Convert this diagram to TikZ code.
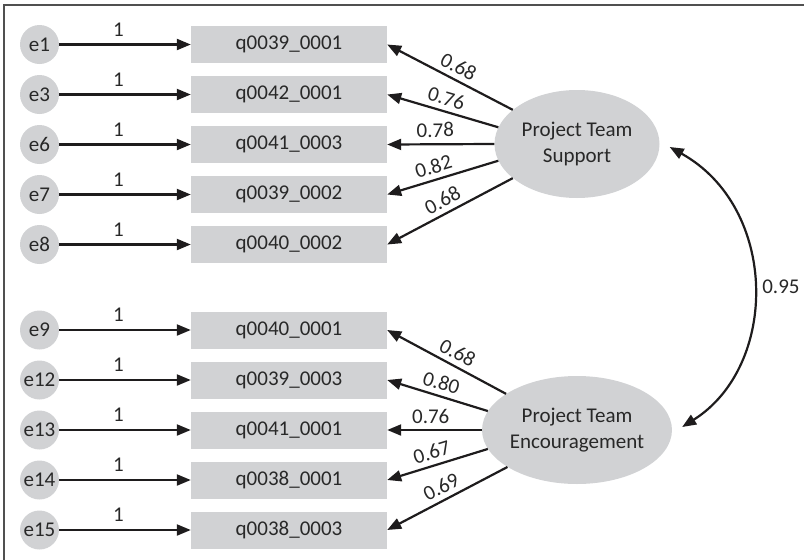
\documentclass[tikz,border=0pt]{standalone}
\usepackage{fontspec}
\setmainfont{Carlito}
\usetikzlibrary{arrows.meta,shapes.geometric,calc}
\definecolor{boxgray}{RGB}{209,210,212}
\definecolor{ink}{RGB}{30,28,29}
\definecolor{txt}{RGB}{40,40,40}
\definecolor{framegray}{RGB}{80,80,80}
\begin{document}
\begin{tikzpicture}[x=1pt,y=-1pt,
  font=\fontsize{21pt}{26pt}\selectfont,
  err/.style={circle, fill=boxgray, minimum size=39pt, inner sep=0pt, text=txt},
  obs/.style={rectangle, fill=boxgray, minimum width=196pt, minimum height=37pt, inner sep=0pt, text=txt},
  lat/.style={ellipse, fill=boxgray, minimum width=165pt, minimum height=108pt, inner sep=0pt, align=center, text=txt},
  conn/.style={draw=ink, line width=2.2pt, -{Triangle[length=14pt,width=11pt]}},
  lbl/.style={text=txt, inner sep=0pt}]
\useasboundingbox (0,0) rectangle (804,560);
\draw[framegray, line width=1.6pt] (4,560) -- (4,5) -- (804,5);

% observed and error nodes
\foreach \e/\q/\t/\y in {1/1/q0039\_0001/44.5, 3/2/q0042\_0001/94.5, 6/3/q0041\_0003/144.5, 7/4/q0039\_0002/194.5, 8/5/q0040\_0002/244.5,
                          9/6/q0040\_0001/330, 12/7/q0039\_0003/380, 13/8/q0041\_0001/430, 14/9/q0038\_0001/480, 15/10/q0038\_0003/530}{
  \node[err] (e\e) at (39.5,\y) {e\e};
  \node[obs] (q\q) at (289,\y) {\t};
  \draw[conn] (e\e) -- (q\q) node[pos=0.45, above=7pt, lbl] {1};
}

\node[lat] (pts) at (577,144) {Project Team\\Support};
\node[lat] (pte) at (577,430) {Project Team\\Encouragement};

\draw[conn] (pts.152) -- (q1.east) node[pos=0.48, sloped, above=5pt, lbl] {0.68};
\draw[conn] (pts.168) -- (q2.east) node[pos=0.5, sloped, above=5pt, lbl] {0.76};
\draw[conn] (pts.180) -- (q3.east) node[pos=0.55, sloped, above=6pt, lbl] {0.78};
\draw[conn] (pts.192) -- (q4.east) node[pos=0.55, sloped, above=5pt, lbl] {0.82};
\draw[conn] (pts.208) -- (q5.east) node[pos=0.51, sloped, above=5pt, lbl] {0.68};

\draw[conn] (pte.153) -- (q6.east) node[pos=0.46, sloped, above=5pt, lbl] {0.68};
\draw[conn] (pte.168) -- (q7.east) node[pos=0.5, sloped, above=5pt, lbl] {0.80};
\draw[conn] (pte.180) -- (q8.east) node[pos=0.54, sloped, above=5pt, lbl] {0.76};
\draw[conn] (pte.192) -- (q9.east) node[pos=0.52, sloped, above=5pt, lbl] {0.67};
\draw[conn] (pte.208) -- (q10.east) node[pos=0.5, sloped, above=5pt, lbl] {0.69};

\draw[draw=ink, line width=2.2pt, {Triangle[length=14pt,width=11pt]}-{Triangle[length=14pt,width=11pt]}]
  ($(pts.east)+(10,3)$) .. controls (779,208) and (779,366) .. ($(pte.east)+(10,-3)$)
  node[midway, right=8pt, lbl] {0.95};
\end{tikzpicture}
\end{document}
